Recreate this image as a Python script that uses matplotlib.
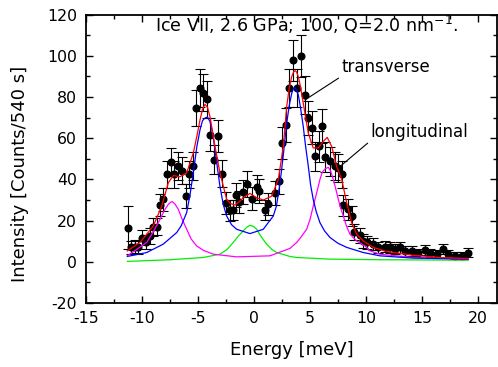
import matplotlib
matplotlib.use("Agg")
import matplotlib.pyplot as plt
from matplotlib.ticker import MultipleLocator

# ---- measured data ----
energy = [-11.22, -11.01, -10.63, -10.33, -10.03, -9.64, -9.29, -8.99, -8.69, -8.39,
          -8.10, -7.74, -7.41, -7.12, -6.76, -6.46, -6.10, -5.80, -5.47, -5.18,
          -4.82, -4.53, -4.17, -3.93, -3.54, -3.19, -2.88, -2.50, -2.14, -1.90,
          -1.61, -1.31, -0.96, -0.65, -0.20, 0.24, 0.48, 0.98, 1.28, 1.88,
          2.26, 2.50, 2.85, 3.12, 3.51, 3.81, 4.17, 4.55, 4.85, 5.15,
          5.45, 5.83, 6.10, 6.34, 6.79, 7.23, 7.53, 7.83, 7.97, 8.36,
          8.72, 8.93, 9.46, 9.76, 10.06, 10.65, 11.10, 11.70, 12.14, 12.59,
          13.04, 13.48, 14.08, 14.67, 15.27, 15.71, 16.31, 16.90, 17.35, 17.95,
          18.54, 19.13]
counts = [16.6, 7.0, 7.4, 7.0, 11.8, 9.7, 12.6, 16.9, 17.1, 27.5,
          30.3, 42.4, 48.5, 42.4, 46.4, 44.3, 31.9, 42.4, 46.4, 74.6,
          84.2, 82.1, 78.9, 61.7, 49.6, 60.9, 42.7, 28.7, 25.0, 25.1,
          32.4, 29.2, 34.0, 37.9, 30.6, 36.2, 34.3, 25.1, 27.9, 33.2,
          39.0, 57.7, 66.4, 84.6, 97.9, 84.5, 99.9, 81.0, 69.8, 65.2,
          51.2, 56.0, 66.0, 50.9, 48.8, 46.4, 45.6, 42.4, 27.4, 25.5,
          22.2, 14.5, 12.9, 10.1, 9.4, 8.6, 7.0, 7.4, 7.0, 6.1,
          7.0, 5.3, 5.3, 4.2, 5.6, 4.2, 3.7, 6.1, 3.7, 2.9,
          2.9, 4.5]
errors = [10.5, 3.0, 3.0, 3.0, 3.8, 3.5, 3.8, 4.3, 4.3, 5.3,
          5.5, 6.6, 7.0, 6.6, 6.8, 6.7, 5.7, 6.6, 6.8, 8.7,
          9.2, 9.1, 8.9, 7.9, 7.1, 7.8, 6.6, 5.4, 5.0, 5.0,
          5.7, 5.4, 5.8, 6.2, 5.5, 6.0, 5.9, 5.0, 5.3, 5.8,
          6.3, 7.6, 8.2, 9.2, 9.9, 9.2, 10.0, 9.0, 8.4, 8.1,
          7.2, 7.5, 8.1, 7.1, 7.0, 6.8, 6.8, 6.5, 5.2, 5.1,
          4.7, 3.8, 3.6, 3.2, 3.1, 2.9, 2.6, 2.7, 2.6, 2.5,
          2.6, 2.3, 2.3, 2.1, 2.4, 2.1, 1.9, 2.5, 1.9, 1.7,
          1.7, 2.1]

# ---- fit curves ----
fit_x = [-11.31, -10.18, -8.99, -8.24, -7.65, -7.20, -6.61, -6.01, -5.42, -5.10,
         -4.82, -4.60, -4.38, -4.15, -3.93, -3.48, -3.04, -2.44, -2.10, -1.70,
         -1.30, -0.96, -0.36, 0.24, 0.83, 1.58, 2.17, 2.62, 2.92, 3.15,
         3.37, 3.52, 3.66, 3.80, 3.96, 4.15, 4.40, 4.85, 5.29, 5.74,
         6.19, 6.54, 6.94, 7.38, 7.83, 8.28, 8.72, 9.17, 9.76, 10.20,
         10.65, 11.84, 14.20, 16.60, 19.13]
fit_y = [5.3, 9.4, 17.4, 27.0, 38.4, 41.9, 41.3, 43.2, 52.8, 61.0,
         68.9, 74.0, 76.5, 75.0, 70.5, 56.0, 43.2, 30.3, 28.3, 27.5,
         29.3, 31.1, 33.2, 31.1, 30.0, 31.9, 40.0, 56.0, 75.4, 84.5,
         89.9, 92.0, 92.8, 92.2, 89.9, 85.0, 77.0, 62.5, 55.3, 55.3,
         58.5, 60.4, 56.0, 46.4, 40.0, 28.7, 19.0, 13.4, 10.1, 8.6,
         7.0, 5.0, 3.2, 2.1, 1.6]

trans_x = [-11.31, -9.58, -8.10, -6.90, -6.50, -6.01, -5.70, -5.42, -5.10, -4.82,
           -4.60, -4.38, -4.15, -3.93, -3.70, -3.48, -3.25, -3.04, -2.75, -2.44,
           -2.00, -1.55, -0.36, 0.83, 1.20, 1.72, 2.00, 2.32, 2.62, 2.92,
           3.15, 3.37, 3.52, 3.66, 3.80, 3.96, 4.15, 4.40, 4.60, 4.85,
           5.05, 5.29, 5.55, 5.89, 6.30, 6.79, 7.50, 8.28, 9.76, 11.25,
           14.20, 19.13]
trans_y = [2.6, 4.5, 8.6, 14.2, 17.5, 23.9, 33.0, 43.2, 56.0, 64.1,
           68.5, 69.8, 70.3, 68.1, 62.5, 54.4, 45.0, 36.7, 28.0, 22.2,
           18.0, 15.8, 13.7, 15.8, 18.5, 22.2, 27.0, 38.0, 52.0, 67.3,
           76.0, 81.8, 84.0, 84.5, 83.5, 81.0, 75.0, 65.7, 56.5, 46.4,
           37.5, 30.3, 24.5, 19.0, 15.0, 11.8, 9.0, 7.0, 4.5, 2.9,
           1.8, 1.3]

long_x = [-11.31, -9.58, -9.00, -8.39, -8.00, -7.65, -7.45, -7.29, -7.05, -6.76,
          -6.40, -6.01, -5.60, -5.12, -4.50, -3.63, -1.55, 1.43, 3.21, 3.81,
          4.20, 4.70, 5.00, 5.29, 5.60, 5.89, 6.10, 6.34, 6.64, 6.85,
          7.08, 7.30, 7.53, 7.75, 7.98, 8.25, 8.57, 9.17, 9.91, 10.36,
          11.25, 14.20, 19.13]
long_y = [2.9, 9.4, 14.5, 20.6, 25.0, 27.9, 28.9, 29.2, 28.0, 25.5,
          20.5, 15.8, 11.0, 7.7, 5.5, 3.7, 2.4, 2.9, 6.5, 9.4,
          12.0, 15.8, 20.5, 27.0, 33.5, 40.0, 43.5, 45.1, 45.9, 44.0,
          40.0, 35.5, 30.3, 26.0, 22.2, 17.5, 13.4, 10.1, 7.7, 5.3,
          3.7, 2.1, 1.3]

quasi_x = [-11.31, -7.50, -4.53, -3.04, -2.40, -1.85, -1.40, -0.96, -0.65, -0.36,
           -0.05, 0.24, 0.60, 1.13, 1.60, 2.03, 3.21, 3.81, 6.79, 11.25,
           19.13]
quasi_y = [0.2, 1.0, 2.1, 3.7, 6.0, 9.4, 12.5, 15.0, 16.8, 17.7,
           17.2, 15.8, 12.5, 8.6, 6.0, 4.5, 2.6, 2.1, 1.3, 1.0,
           0.8]

x_ticks = [-15, -10, -5, 0, 5, 10, 15, 20]
y_ticks = [-20, 0, 20, 40, 60, 80, 100, 120]

plt.rcParams['font.family'] = ['DejaVu Sans']
plt.rcParams['axes.unicode_minus'] = False

fig = plt.figure(figsize=(4.98, 3.67), dpi=100)
ax = fig.add_axes([0.1727, 0.1744, 0.8253, 0.7856])

ax.errorbar(energy, counts, yerr=errors, fmt='o', color='black', ms=4.8,
            elinewidth=0.8, capsize=3.6, capthick=0.8, zorder=2)
ax.plot(quasi_x, quasi_y, color='#00ee00', lw=0.9, zorder=3)
ax.plot(long_x, long_y, color='#ff00ff', lw=0.9, zorder=3)
ax.plot(trans_x, trans_y, color='#0000ff', lw=0.9, zorder=3)
ax.plot(fit_x, fit_y, color='#ff0000', lw=0.9, zorder=4)

ax.set_xlim(-15, 21.7)
ax.set_ylim(-20, 120)
ax.set_xticks(x_ticks)
ax.set_yticks(y_ticks)
ax.xaxis.set_minor_locator(MultipleLocator(2.5))
ax.yaxis.set_minor_locator(MultipleLocator(10))
ax.tick_params(which='both', direction='in', top=True, right=True,
               labeltop=False, labelright=False, width=1.0)
ax.tick_params(which='major', length=5, labelsize=11.3)
ax.tick_params(axis='y', which='major', pad=6.5)
ax.tick_params(axis='x', which='major', pad=6)
ax.tick_params(which='minor', length=3)
for s in ax.spines.values():
    s.set_linewidth(1.3)

ax.set_xlabel('Energy [meV]', fontsize=13)
ax.set_ylabel('Intensity [Counts/540 s]', fontsize=13)
ax.xaxis.set_label_coords(0.5, -0.132)
ax.yaxis.set_label_coords(-0.139, 0.446)

ax.text(-8.8, 111.4, r'Ice VII, 2.6 GPa; 100, Q=2.0 nm$^{-1}$.',
        fontsize=12.6, ha='left', va='baseline')

ax.annotate('transverse', xy=(4.55, 78.6), xytext=(7.8, 92.0),
            fontsize=12, ha='left', va='baseline',
            arrowprops=dict(arrowstyle='-', color='black', lw=0.8,
                            shrinkA=0, shrinkB=0, relpos=(0.0, 0.0)))
ax.annotate('longitudinal', xy=(7.53, 45.6), xytext=(10.4, 60.7),
            fontsize=12, ha='left', va='baseline',
            arrowprops=dict(arrowstyle='-', color='black', lw=0.8,
                            shrinkA=0, shrinkB=0, relpos=(0.0, 0.0)))

fig.savefig('out.png', dpi=100)
